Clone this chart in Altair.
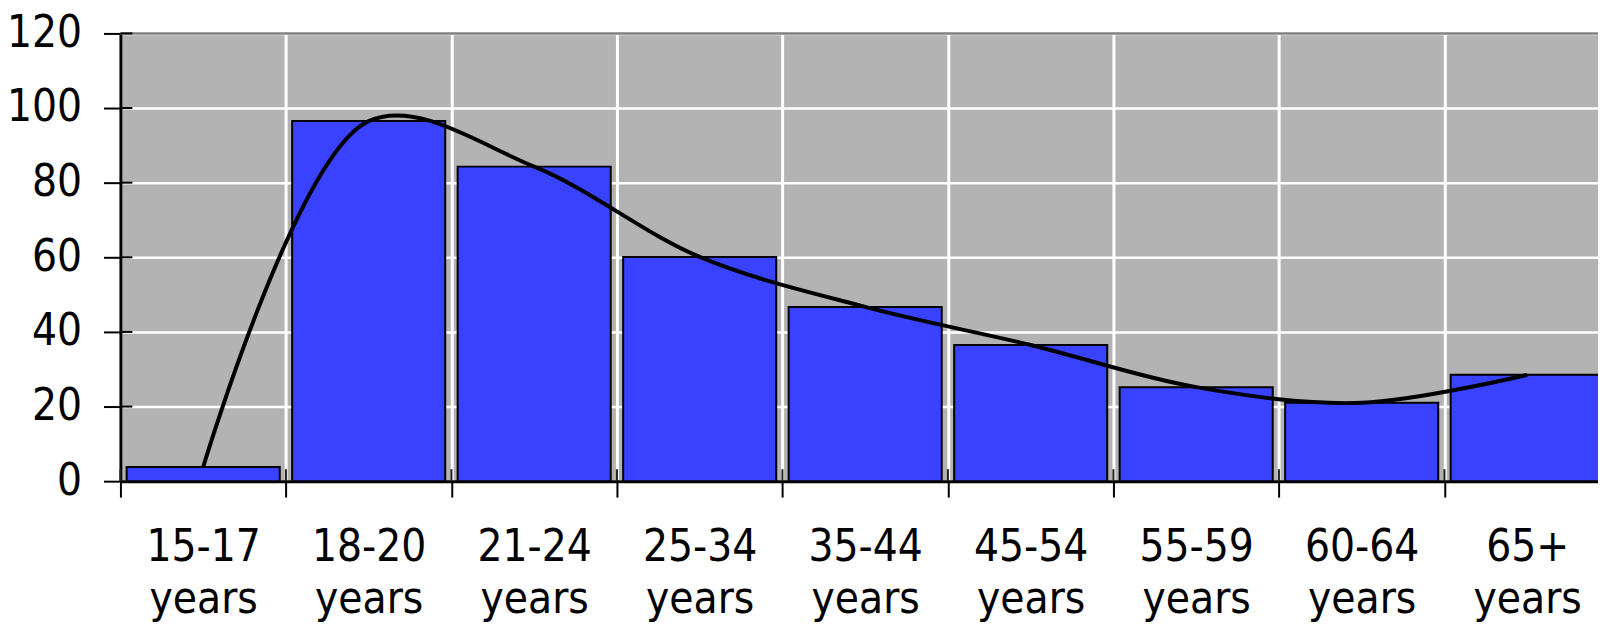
import altair as alt
import pandas as pd

categories = ["15-17 years", "18-20 years", "21-24 years", "25-34 years", "35-44 years",
              "45-54 years", "55-59 years", "60-64 years", "65+ years"]
values = [3.8, 96.5, 84.3, 60.1, 46.7, 36.5, 25.2, 21.0, 28.5]
y_ticks = [0, 20, 40, 60, 80, 100, 120]

df = pd.DataFrame({"cat": categories, "val": values})
tick_df = pd.DataFrame({"t": y_ticks[1:]})
top_df = pd.DataFrame({"t": [120]})

FONT = "Liberation Sans Narrow, DejaVu Sans Condensed, Liberation Sans, Arial"

x_scale = alt.Scale(domain=categories, range=[0, 1497], paddingInner=0, paddingOuter=0)
y_scale = alt.Scale(domain=[0, 120], nice=False)

x_enc = alt.X("cat:N", scale=x_scale, sort=categories, title=None,
              axis=alt.Axis(labelExpr="split(datum.label, ' ')", labelAngle=0,
                            tickBand="extent", grid=True, gridColor="white", gridWidth=3,
                            gridOpacity=1, domainColor="black", domainWidth=3,
                            tickColor="black", tickWidth=2, tickSize=16,
                            labelFont=FONT, labelFontSize=44, labelColor="black",
                            labelPadding=29, labelLineHeight=52, labelBaseline="top"))
y_enc = alt.Y("val:Q", scale=y_scale, title=None,
              axis=alt.Axis(values=y_ticks, grid=True, gridColor="white", gridWidth=2.5,
                            gridOpacity=1, domainColor="black", domainWidth=3,
                            tickColor="black", tickWidth=2, tickSize=17,
                            labelFont=FONT, labelFontSize=44, labelColor="black",
                            labelPadding=22, labelBaseline="middle"))

bars = alt.Chart(df).mark_bar(color="#3842FF", stroke="black", strokeWidth=2,
                              width=alt.RelativeBandSize(0.925)).encode(x=x_enc, y=y_enc)

line = alt.Chart(df).mark_line(color="black", strokeWidth=4, interpolate="catmull-rom").encode(
    x=alt.X("cat:N", scale=x_scale, sort=categories),
    y=alt.Y("val:Q", scale=y_scale))

top_rule = alt.Chart(top_df).mark_rule(color="#808080", strokeWidth=2.5).encode(
    y=alt.Y("t:Q", scale=y_scale))

inner_y_ticks = alt.Chart(tick_df).mark_rule(color="black", strokeWidth=2).encode(
    y=alt.Y("t:Q", scale=y_scale), x=alt.value(0), x2=alt.value(12))

inner_x_ticks = alt.Chart(df).mark_rule(color="#222222", strokeWidth=2).encode(
    x=alt.X("cat:N", scale=x_scale, sort=categories, bandPosition=0),
    y=alt.value(438), y2=alt.value(450))

chart = alt.layer(top_rule, bars, inner_x_ticks, line, inner_y_ticks).properties(
    width=1485, height=450,
    autosize=alt.AutoSizeParams(type="none"),
    padding={"left": 113, "top": 24, "right": 0, "bottom": 143},
    background="white",
).configure_view(fill="#B3B3B3", stroke=None)

chart.save("out.html", embed_options={"renderer": "svg", "actions": False})
